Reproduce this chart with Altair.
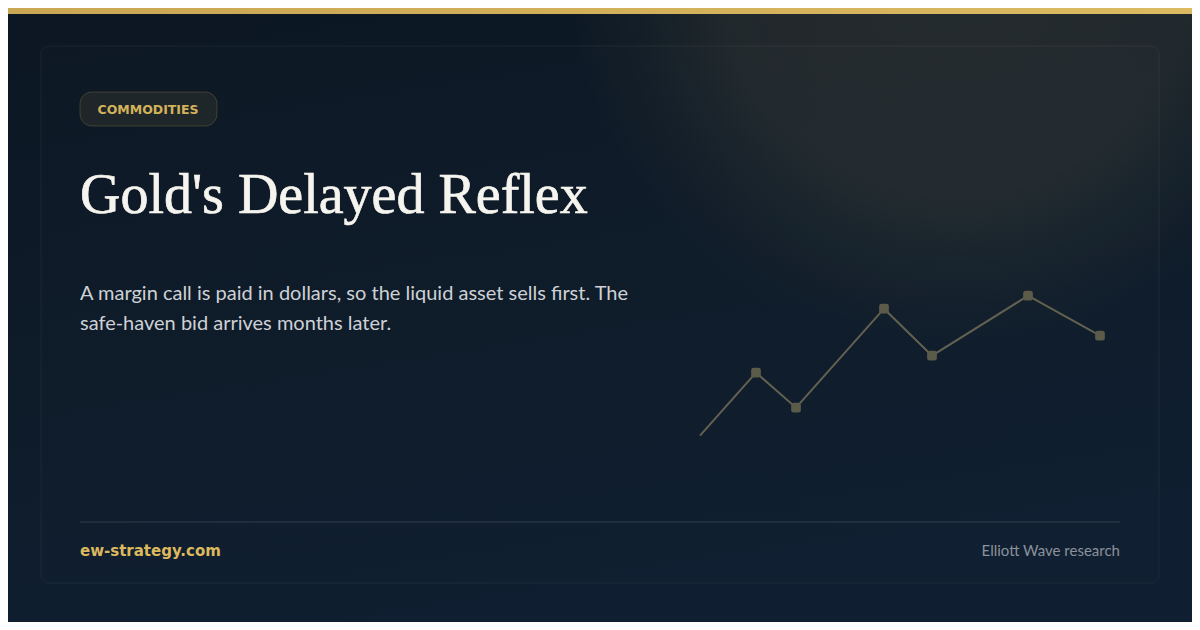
import altair as alt
import pandas as pd

# ---- data ----
months = [0, 14, 24, 46, 58, 82, 100]          # relative time position
gold_index = [100, 163, 128, 227, 180, 240, 200]  # price index

tag_text = ["COMMODITIES"]
title_text = ["Gold's Delayed Reflex"]
subtitle_lines = [
    "A margin call is paid in dollars, so the liquid asset sells first. The",
    "safe-haven bid arrives months later.",
]
site_text = ["ew-strategy.com"]
source_text = ["Elliott Wave research"]

W, H = 1184, 614
one = pd.DataFrame({"k": [0]})

def rect(x, x2, y, y2, **kw):
    return alt.Chart(one).mark_rect(**kw).encode(
        x=alt.value(x), x2=alt.value(x2), y=alt.value(y), y2=alt.value(y2)
    )

def text(s, x, y, **kw):
    return alt.Chart(pd.DataFrame({"s": s})).mark_text(**kw).encode(
        x=alt.value(x), y=alt.value(y), text="s:N"
    )

bg = rect(0, W, 0, H, fill=alt.LinearGradient(
    gradient="linear", x1=0, y1=0, x2=0.3, y2=1,
    stops=[alt.GradientStop(color="#0c1723", offset=0),
           alt.GradientStop(color="#0e1b29", offset=0.6),
           alt.GradientStop(color="#0f1e30", offset=1)]))

glow = rect(0, W, 0, H, fill=alt.RadialGradient(
    gradient="radial", x1=0.8, y1=0.2, r1=0, x2=0.8, y2=0.2, r2=0.33,
    stops=[alt.GradientStop(color="rgba(205,180,105,0.12)", offset=0),
           alt.GradientStop(color="rgba(205,180,105,0.10)", offset=0.6),
           alt.GradientStop(color="rgba(205,180,105,0.04)", offset=0.82),
           alt.GradientStop(color="rgba(205,180,105,0)", offset=1)]))

topbar = rect(0, W, 0, 6, fill=alt.LinearGradient(
    gradient="linear", x1=0, y1=0, x2=1, y2=0,
    stops=[alt.GradientStop(color="#c9a753", offset=0),
           alt.GradientStop(color="#dcba62", offset=1)]))

card = rect(33, 1151, 38, 575, fill="rgba(255,255,255,0.006)",
            stroke="rgba(255,255,255,0.06)", strokeWidth=1, cornerRadius=8)

pill = rect(72, 209, 84, 118, fill="rgba(212,178,90,0.09)",
            stroke="rgba(212,178,90,0.22)", strokeWidth=1, cornerRadius=12)

sep = rect(72, 1112, 513, 515, fill="rgba(255,255,255,0.07)")

tag = text(tag_text, 140, 106, align="center", baseline="alphabetic",
           font="DejaVu Sans", fontSize=12.5, fontWeight="bold", color="#d4b25a")
title = text(title_text, 72, 205, align="left", baseline="alphabetic",
             font="Liberation Serif", fontSize=56, fontWeight="normal",
             color="#f6f4ee", stroke="#f6f4ee", strokeWidth=0.7)
sub1 = text(subtitle_lines[:1], 72, 292, align="left", baseline="alphabetic",
            font="Lato", fontSize=20, color="#cdd1d6")
sub2 = text(subtitle_lines[1:], 72, 322, align="left", baseline="alphabetic",
            font="Lato", fontSize=20, color="#cdd1d6")
site = text(site_text, 72, 547.5, align="left", baseline="alphabetic",
            font="DejaVu Sans", fontSize=15, fontWeight="bold", color="#dcb95e")
source = text(source_text, 1112, 547.5, align="right", baseline="alphabetic",
              font="Lato", fontSize=15, color="#8b929b")

df = pd.DataFrame({"t": months, "v": gold_index})
xs = alt.X("t:Q", scale=alt.Scale(domain=[0, 100], range=[692, 1092], nice=False, zero=False), axis=None)
ys = alt.Y("v:Q", scale=alt.Scale(domain=[100, 240], range=[427.7, 287.7], nice=False, zero=False), axis=None)

line = alt.Chart(df).mark_line(color="#636150", strokeWidth=2).encode(x=xs, y=ys)

rounded_sq = ("M-0.5,-1 L0.5,-1 Q1,-1 1,-0.5 L1,0.5 Q1,1 0.5,1 L-0.5,1 "
              "Q-1,1 -1,0.5 L-1,-0.5 Q-1,-1 -0.5,-1 Z")
pts = alt.Chart(df).transform_filter("datum.t > 0").mark_point(
    shape=rounded_sq, filled=True, size=95, color="#5c5a48", opacity=1
).encode(x=xs, y=ys)

chart = alt.layer(
    bg, glow, card, topbar, pill, sep, tag, title, sub1, sub2, site, source, line, pts
).properties(
    width=W, height=H, padding=0, autosize=alt.AutoSizeParams(type="none")
).configure(background="#0e1a27").configure_view(stroke=None)

chart.save("out.html", embed_options={"renderer": "svg", "actions": False})
